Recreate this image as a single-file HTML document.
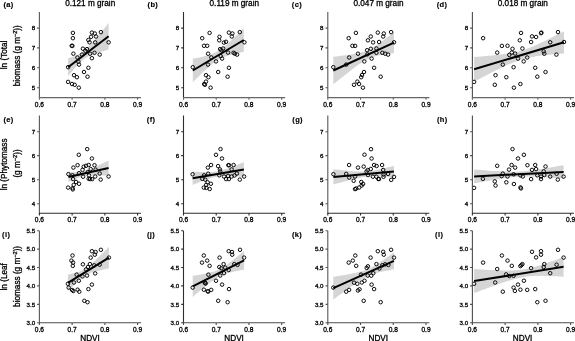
<!DOCTYPE html>
<html lang="en"><head><meta charset="utf-8"><title>NDVI vs biomass</title>
<style>html,body{margin:0;padding:0;background:#fff}body{width:575px;height:341px;overflow:hidden}svg{display:block}</style>
</head><body>
<svg width="575" height="341" viewBox="0 0 575 341" font-family="'Liberation Sans', Arial, Helvetica, sans-serif">
<rect width="575" height="341" fill="#fff"/>
<g>
<polygon points="68.1,58.4 69.79,57.84 71.47,57.26 73.16,56.64 74.85,55.98 76.54,55.26 78.22,54.47 79.91,53.58 81.6,52.55 83.29,51.37 84.97,50.02 86.66,48.52 88.35,46.87 90.04,45.11 91.72,43.26 93.41,41.36 95.1,39.4 96.79,37.41 98.47,35.4 100.16,33.36 101.85,31.31 103.54,29.24 105.22,27.17 106.91,25.09 108.6,23 108.6,49.4 106.91,49.89 105.22,50.4 103.54,50.91 101.85,51.43 100.16,51.96 98.47,52.5 96.79,53.07 95.1,53.67 93.41,54.29 91.72,54.97 90.04,55.71 88.35,56.53 86.66,57.47 84.97,58.54 83.29,59.78 81.6,61.18 79.91,62.74 78.22,64.43 76.54,66.22 74.85,68.09 73.16,70.01 71.47,71.98 69.79,73.98 68.1,76" fill="#d5d5d5"/>
<g fill="none" stroke="#000" stroke-width="0.95">
<circle cx="72.9" cy="32.9" r="1.75"/>
<circle cx="72.9" cy="38.2" r="1.75"/>
<circle cx="71.7" cy="45.8" r="1.75"/>
<circle cx="72.4" cy="45.9" r="1.75"/>
<circle cx="73.4" cy="53.7" r="1.75"/>
<circle cx="91.9" cy="32.6" r="1.75"/>
<circle cx="94.8" cy="33.5" r="1.75"/>
<circle cx="100.9" cy="32.1" r="1.75"/>
<circle cx="96" cy="36.5" r="1.75"/>
<circle cx="91.1" cy="36.8" r="1.75"/>
<circle cx="88.4" cy="40" r="1.75"/>
<circle cx="89.5" cy="42.3" r="1.75"/>
<circle cx="95.2" cy="42.4" r="1.75"/>
<circle cx="108.6" cy="42.3" r="1.75"/>
<circle cx="82.9" cy="48.7" r="1.75"/>
<circle cx="87" cy="49.1" r="1.75"/>
<circle cx="85.4" cy="50.8" r="1.75"/>
<circle cx="90.1" cy="53.7" r="1.75"/>
<circle cx="94.5" cy="52.8" r="1.75"/>
<circle cx="99.7" cy="54.6" r="1.75"/>
<circle cx="82" cy="54.6" r="1.75"/>
<circle cx="77.4" cy="57.5" r="1.75"/>
<circle cx="91.9" cy="58.2" r="1.75"/>
<circle cx="79" cy="64.6" r="1.75"/>
<circle cx="78.4" cy="61.7" r="1.75"/>
<circle cx="68.1" cy="67.2" r="1.75"/>
<circle cx="88.4" cy="67.8" r="1.75"/>
<circle cx="84" cy="72" r="1.75"/>
<circle cx="87.5" cy="76.7" r="1.75"/>
<circle cx="74" cy="75.2" r="1.75"/>
<circle cx="76.9" cy="77.2" r="1.75"/>
<circle cx="68.1" cy="81.9" r="1.75"/>
<circle cx="72" cy="84" r="1.75"/>
<circle cx="74.7" cy="84.8" r="1.75"/>
<circle cx="78.8" cy="87.7" r="1.75"/>
</g>
<line x1="68.1" y1="67.2" x2="108.6" y2="36.2" stroke="#000" stroke-width="2.0"/>
<path d="M39.4 12V98.1M37.1 28.1H39.4M37.1 47.9H39.4M37.1 67.8H39.4M37.1 87.7H39.4" fill="none" stroke="#585858" stroke-width="1.1"/>
<path d="M38.9 97.6H141M39.4 97.6V99.8M72.13 97.6V99.8M104.86 97.6V99.8M137.59 97.6V99.8" fill="none" stroke="#666" stroke-width="1.1"/>
<g font-size="6.6" fill="#000" stroke="#000" stroke-width="0.3">
<text x="35.1" y="30.2" text-anchor="end" font-size="6.2">8</text>
<text x="35.1" y="50" text-anchor="end" font-size="6.2">7</text>
<text x="35.1" y="69.9" text-anchor="end" font-size="6.2">6</text>
<text x="35.1" y="89.8" text-anchor="end" font-size="6.2">5</text>
<text x="39.4" y="106.8" text-anchor="middle">0.6</text>
<text x="72.13" y="106.8" text-anchor="middle">0.7</text>
<text x="104.86" y="106.8" text-anchor="middle">0.8</text>
<text x="137.59" y="106.8" text-anchor="middle">0.9</text>
</g>
<text x="3.5" y="6.7" font-size="7.5" letter-spacing="0.35" font-weight="bold" stroke="#000" stroke-width="0.15">(a)</text>
<text x="90.2" y="6.1" font-size="8.2" text-anchor="middle" stroke="#000" stroke-width="0.3">0.121 m grain</text>
</g>
<g>
<polygon points="192.8,58.8 194.93,58.37 197.05,57.92 199.18,57.46 201.3,56.98 203.43,56.47 205.55,55.92 207.68,55.33 209.8,54.67 211.93,53.93 214.05,53.06 216.18,52.04 218.3,50.85 220.43,49.47 222.55,47.92 224.68,46.22 226.8,44.4 228.93,42.51 231.05,40.55 233.18,38.54 235.3,36.51 237.43,34.44 239.55,32.36 241.68,30.26 243.8,28.15 243.8,51.85 241.68,52.28 239.55,52.72 237.43,53.18 235.3,53.66 233.18,54.16 231.05,54.7 228.93,55.28 226.8,55.93 224.68,56.66 222.55,57.5 220.43,58.49 218.3,59.65 216.18,61 214.05,62.52 211.93,64.2 209.8,65.99 207.68,67.88 205.55,69.83 203.43,71.82 201.3,73.86 199.18,75.91 197.05,78 194.93,80.09 192.8,82.2" fill="#d5d5d5"/>
<g fill="none" stroke="#000" stroke-width="0.95">
<circle cx="209.6" cy="32.9" r="1.75"/>
<circle cx="202.2" cy="38.2" r="1.75"/>
<circle cx="204" cy="45.8" r="1.75"/>
<circle cx="207.2" cy="45.8" r="1.75"/>
<circle cx="208.1" cy="53.7" r="1.75"/>
<circle cx="228.9" cy="32.6" r="1.75"/>
<circle cx="232.4" cy="33.5" r="1.75"/>
<circle cx="239.8" cy="32.1" r="1.75"/>
<circle cx="231.8" cy="36.5" r="1.75"/>
<circle cx="219.5" cy="36.8" r="1.75"/>
<circle cx="219.2" cy="40.3" r="1.75"/>
<circle cx="223.9" cy="42.6" r="1.75"/>
<circle cx="226" cy="41.8" r="1.75"/>
<circle cx="244.4" cy="42.3" r="1.75"/>
<circle cx="220.1" cy="49.1" r="1.75"/>
<circle cx="223.1" cy="48.5" r="1.75"/>
<circle cx="221.3" cy="50.2" r="1.75"/>
<circle cx="228.1" cy="52.6" r="1.75"/>
<circle cx="233.6" cy="52.8" r="1.75"/>
<circle cx="237.1" cy="54.6" r="1.75"/>
<circle cx="234.8" cy="53.7" r="1.75"/>
<circle cx="211.3" cy="57.4" r="1.75"/>
<circle cx="220.7" cy="56.1" r="1.75"/>
<circle cx="222.1" cy="58.6" r="1.75"/>
<circle cx="216" cy="61.4" r="1.75"/>
<circle cx="208" cy="64.6" r="1.75"/>
<circle cx="192.8" cy="67.2" r="1.75"/>
<circle cx="228.9" cy="67.8" r="1.75"/>
<circle cx="218.2" cy="72" r="1.75"/>
<circle cx="227.6" cy="76.7" r="1.75"/>
<circle cx="206" cy="75.2" r="1.75"/>
<circle cx="208.4" cy="77.2" r="1.75"/>
<circle cx="206" cy="81.6" r="1.75"/>
<circle cx="204.2" cy="84" r="1.75"/>
<circle cx="204.9" cy="84.8" r="1.75"/>
<circle cx="210.6" cy="87.7" r="1.75"/>
</g>
<line x1="192.8" y1="70.5" x2="243.8" y2="40" stroke="#000" stroke-width="2.0"/>
<path d="M183.5 12V98.1M181.2 28.1H183.5M181.2 47.9H183.5M181.2 67.8H183.5M181.2 87.7H183.5" fill="none" stroke="#2e2e2e" stroke-width="1.1"/>
<path d="M183 97.6H285.1M183.5 97.6V99.8M216.23 97.6V99.8M248.96 97.6V99.8M281.69 97.6V99.8" fill="none" stroke="#666" stroke-width="1.1"/>
<g font-size="6.6" fill="#000" stroke="#000" stroke-width="0.3">
<text x="179.2" y="30.2" text-anchor="end" font-size="6.2">8</text>
<text x="179.2" y="50" text-anchor="end" font-size="6.2">7</text>
<text x="179.2" y="69.9" text-anchor="end" font-size="6.2">6</text>
<text x="179.2" y="89.8" text-anchor="end" font-size="6.2">5</text>
<text x="183.5" y="106.8" text-anchor="middle">0.6</text>
<text x="216.23" y="106.8" text-anchor="middle">0.7</text>
<text x="248.96" y="106.8" text-anchor="middle">0.8</text>
<text x="281.69" y="106.8" text-anchor="middle">0.9</text>
</g>
<text x="147.6" y="6.7" font-size="7.5" letter-spacing="0.35" font-weight="bold" stroke="#000" stroke-width="0.15">(b)</text>
<text x="234.3" y="6.1" font-size="8.2" text-anchor="middle" stroke="#000" stroke-width="0.3">0.119 m grain</text>
</g>
<g>
<polygon points="333.3,56.7 335.83,56.43 338.36,56.15 340.89,55.86 343.42,55.55 345.95,55.23 348.48,54.89 351,54.53 353.53,54.12 356.06,53.67 358.59,53.15 361.12,52.54 363.65,51.81 366.18,50.91 368.71,49.82 371.24,48.54 373.77,47.07 376.3,45.45 378.82,43.71 381.35,41.88 383.88,40 386.41,38.07 388.94,36.1 391.47,34.11 394,32.1 394,53.1 391.47,53.42 388.94,53.75 386.41,54.11 383.88,54.5 381.35,54.94 378.82,55.44 376.3,56.03 373.77,56.73 371.24,57.59 368.71,58.63 366.18,59.87 363.65,61.29 361.12,62.88 358.59,64.6 356.06,66.4 353.53,68.28 351,70.2 348.48,72.16 345.95,74.14 343.42,76.15 340.89,78.17 338.36,80.2 335.83,82.25 333.3,84.3" fill="#d5d5d5"/>
<g fill="none" stroke="#000" stroke-width="0.95">
<circle cx="355.9" cy="32.9" r="1.75"/>
<circle cx="348.7" cy="38.2" r="1.75"/>
<circle cx="352.4" cy="45.8" r="1.75"/>
<circle cx="355.1" cy="45.9" r="1.75"/>
<circle cx="358" cy="53.7" r="1.75"/>
<circle cx="377.8" cy="32.6" r="1.75"/>
<circle cx="383.8" cy="33.5" r="1.75"/>
<circle cx="391.1" cy="32.1" r="1.75"/>
<circle cx="383.2" cy="36.5" r="1.75"/>
<circle cx="370.8" cy="36.5" r="1.75"/>
<circle cx="367.9" cy="40.3" r="1.75"/>
<circle cx="373.1" cy="42.4" r="1.75"/>
<circle cx="379.1" cy="42" r="1.75"/>
<circle cx="394" cy="42.3" r="1.75"/>
<circle cx="370.8" cy="48.8" r="1.75"/>
<circle cx="376.4" cy="48.5" r="1.75"/>
<circle cx="367.1" cy="50.2" r="1.75"/>
<circle cx="376.4" cy="52.8" r="1.75"/>
<circle cx="382.3" cy="52.8" r="1.75"/>
<circle cx="385.2" cy="53.7" r="1.75"/>
<circle cx="388.1" cy="54.6" r="1.75"/>
<circle cx="349.2" cy="57.5" r="1.75"/>
<circle cx="367.4" cy="54.3" r="1.75"/>
<circle cx="371.6" cy="58.6" r="1.75"/>
<circle cx="364.3" cy="61.4" r="1.75"/>
<circle cx="346.2" cy="64.6" r="1.75"/>
<circle cx="333.3" cy="67.2" r="1.75"/>
<circle cx="374.1" cy="67.8" r="1.75"/>
<circle cx="364" cy="72" r="1.75"/>
<circle cx="380.7" cy="76.7" r="1.75"/>
<circle cx="362" cy="75" r="1.75"/>
<circle cx="361.2" cy="77.2" r="1.75"/>
<circle cx="357.3" cy="81.6" r="1.75"/>
<circle cx="359.1" cy="84" r="1.75"/>
<circle cx="354" cy="84.8" r="1.75"/>
<circle cx="362.9" cy="87.7" r="1.75"/>
</g>
<line x1="333.3" y1="70.5" x2="394" y2="42.6" stroke="#000" stroke-width="2.0"/>
<path d="M327.8 12V98.1M325.5 28.1H327.8M325.5 47.9H327.8M325.5 67.8H327.8M325.5 87.7H327.8" fill="none" stroke="#585858" stroke-width="1.1"/>
<path d="M327.3 97.6H429.4M327.8 97.6V99.8M360.53 97.6V99.8M393.26 97.6V99.8M425.99 97.6V99.8" fill="none" stroke="#666" stroke-width="1.1"/>
<g font-size="6.6" fill="#000" stroke="#000" stroke-width="0.3">
<text x="323.5" y="30.2" text-anchor="end" font-size="6.2">8</text>
<text x="323.5" y="50" text-anchor="end" font-size="6.2">7</text>
<text x="323.5" y="69.9" text-anchor="end" font-size="6.2">6</text>
<text x="323.5" y="89.8" text-anchor="end" font-size="6.2">5</text>
<text x="327.8" y="106.8" text-anchor="middle">0.6</text>
<text x="360.53" y="106.8" text-anchor="middle">0.7</text>
<text x="393.26" y="106.8" text-anchor="middle">0.8</text>
<text x="425.99" y="106.8" text-anchor="middle">0.9</text>
</g>
<text x="291.8" y="6.7" font-size="7.5" letter-spacing="0.35" font-weight="bold" stroke="#000" stroke-width="0.15">(c)</text>
<text x="378.5" y="6.1" font-size="8.2" text-anchor="middle" stroke="#000" stroke-width="0.3">0.047 m grain</text>
</g>
<g>
<polygon points="474.1,57 477.85,56.71 481.59,56.4 485.34,56.09 489.08,55.75 492.83,55.4 496.58,55.01 500.32,54.59 504.07,54.11 507.81,53.57 511.56,52.93 515.3,52.17 519.05,51.25 522.8,50.17 526.54,48.91 530.29,47.48 534.03,45.92 537.78,44.25 541.52,42.51 545.27,40.7 549.02,38.85 552.76,36.97 556.51,35.07 560.25,33.14 564,31.2 564,53.4 560.25,53.71 556.51,54.03 552.76,54.38 549.02,54.75 545.27,55.15 541.52,55.59 537.78,56.1 534.03,56.68 530.29,57.37 526.54,58.19 522.8,59.18 519.05,60.35 515.3,61.68 511.56,63.17 507.81,64.78 504.07,66.49 500.32,68.26 496.58,70.09 492.83,71.95 489.08,73.85 485.34,75.76 481.59,77.7 477.85,79.64 474.1,81.6" fill="#d5d5d5"/>
<g fill="none" stroke="#000" stroke-width="0.95">
<circle cx="483.1" cy="38.2" r="1.75"/>
<circle cx="521" cy="32.9" r="1.75"/>
<circle cx="519.8" cy="40.3" r="1.75"/>
<circle cx="501.9" cy="45.9" r="1.75"/>
<circle cx="507.5" cy="45.8" r="1.75"/>
<circle cx="512.5" cy="48.8" r="1.75"/>
<circle cx="522.4" cy="48.5" r="1.75"/>
<circle cx="497.2" cy="52.6" r="1.75"/>
<circle cx="511.8" cy="52.6" r="1.75"/>
<circle cx="515.1" cy="53.5" r="1.75"/>
<circle cx="509.3" cy="54.9" r="1.75"/>
<circle cx="527.2" cy="57.5" r="1.75"/>
<circle cx="532" cy="36.4" r="1.75"/>
<circle cx="536.1" cy="37" r="1.75"/>
<circle cx="541" cy="33.2" r="1.75"/>
<circle cx="541.4" cy="32.6" r="1.75"/>
<circle cx="531.1" cy="42" r="1.75"/>
<circle cx="558" cy="32.1" r="1.75"/>
<circle cx="550.2" cy="42.3" r="1.75"/>
<circle cx="564" cy="42" r="1.75"/>
<circle cx="544.3" cy="53.7" r="1.75"/>
<circle cx="543.7" cy="51.4" r="1.75"/>
<circle cx="556.4" cy="54.6" r="1.75"/>
<circle cx="518" cy="58.6" r="1.75"/>
<circle cx="523.7" cy="61.4" r="1.75"/>
<circle cx="502.8" cy="64.6" r="1.75"/>
<circle cx="513.6" cy="67.2" r="1.75"/>
<circle cx="495.5" cy="75.2" r="1.75"/>
<circle cx="506.3" cy="77.2" r="1.75"/>
<circle cx="474.1" cy="81.9" r="1.75"/>
<circle cx="494.8" cy="84.8" r="1.75"/>
<circle cx="520.4" cy="84" r="1.75"/>
<circle cx="513.9" cy="87.7" r="1.75"/>
<circle cx="535.2" cy="67.8" r="1.75"/>
<circle cx="545.5" cy="72" r="1.75"/>
<circle cx="537.3" cy="76.7" r="1.75"/>
</g>
<line x1="474.1" y1="69.3" x2="564" y2="42.3" stroke="#000" stroke-width="2.0"/>
<path d="M472.4 12V98.1M470.1 28.1H472.4M470.1 47.9H472.4M470.1 67.8H472.4M470.1 87.7H472.4" fill="none" stroke="#4d4d4d" stroke-width="1.1"/>
<path d="M471.9 97.6H574M472.4 97.6V99.8M505.13 97.6V99.8M537.86 97.6V99.8M570.59 97.6V99.8" fill="none" stroke="#666" stroke-width="1.1"/>
<g font-size="6.6" fill="#000" stroke="#000" stroke-width="0.3">
<text x="468.1" y="30.2" text-anchor="end" font-size="6.2">8</text>
<text x="468.1" y="50" text-anchor="end" font-size="6.2">7</text>
<text x="468.1" y="69.9" text-anchor="end" font-size="6.2">6</text>
<text x="468.1" y="89.8" text-anchor="end" font-size="6.2">5</text>
<text x="472.4" y="106.8" text-anchor="middle">0.6</text>
<text x="505.13" y="106.8" text-anchor="middle">0.7</text>
<text x="537.86" y="106.8" text-anchor="middle">0.8</text>
<text x="570.59" y="106.8" text-anchor="middle">0.9</text>
</g>
<text x="436.7" y="6.7" font-size="7.5" letter-spacing="0.35" font-weight="bold" stroke="#000" stroke-width="0.15">(d)</text>
<text x="522.8" y="6.1" font-size="8.2" text-anchor="middle" stroke="#000" stroke-width="0.3">0.018 m grain</text>
</g>
<g>
<polygon points="68.4,172.1 70.08,172.14 71.75,172.16 73.43,172.17 75.1,172.15 76.78,172.1 78.45,172 80.12,171.84 81.8,171.61 83.47,171.29 85.15,170.87 86.83,170.36 88.5,169.77 90.17,169.11 91.85,168.41 93.52,167.68 95.2,166.92 96.88,166.14 98.55,165.34 100.22,164.53 101.9,163.72 103.57,162.9 105.25,162.07 106.92,161.24 108.6,160.4 108.6,175.6 106.92,175.52 105.25,175.45 103.57,175.38 101.9,175.31 100.22,175.26 98.55,175.21 96.88,175.17 95.2,175.15 93.52,175.15 91.85,175.17 90.17,175.23 88.5,175.33 86.83,175.5 85.15,175.75 83.47,176.09 81.8,176.52 80.12,177.05 78.45,177.65 76.78,178.31 75.1,179.02 73.43,179.76 71.75,180.52 70.08,181.3 68.4,182.1" fill="#d5d5d5"/>
<g fill="none" stroke="#000" stroke-width="0.95">
<circle cx="87.2" cy="149.1" r="1.75"/>
<circle cx="78.8" cy="154.8" r="1.75"/>
<circle cx="91.9" cy="158.5" r="1.75"/>
<circle cx="77.6" cy="165.2" r="1.75"/>
<circle cx="73.4" cy="167.6" r="1.75"/>
<circle cx="88.7" cy="165" r="1.75"/>
<circle cx="86" cy="165.8" r="1.75"/>
<circle cx="83.7" cy="166.7" r="1.75"/>
<circle cx="94.5" cy="165.2" r="1.75"/>
<circle cx="82.5" cy="169.9" r="1.75"/>
<circle cx="90.7" cy="169.1" r="1.75"/>
<circle cx="95.6" cy="169.6" r="1.75"/>
<circle cx="87.8" cy="172" r="1.75"/>
<circle cx="79" cy="173.2" r="1.75"/>
<circle cx="99.7" cy="173.5" r="1.75"/>
<circle cx="68.4" cy="174.1" r="1.75"/>
<circle cx="72.5" cy="175.3" r="1.75"/>
<circle cx="89" cy="175.4" r="1.75"/>
<circle cx="95.2" cy="176.5" r="1.75"/>
<circle cx="108.6" cy="176.5" r="1.75"/>
<circle cx="83.1" cy="176.7" r="1.75"/>
<circle cx="90.1" cy="179.1" r="1.75"/>
<circle cx="92.2" cy="179.1" r="1.75"/>
<circle cx="88.7" cy="178.8" r="1.75"/>
<circle cx="100.7" cy="179.6" r="1.75"/>
<circle cx="73.1" cy="179.1" r="1.75"/>
<circle cx="76.1" cy="182" r="1.75"/>
<circle cx="79" cy="183.75" r="1.75"/>
<circle cx="73.7" cy="184.9" r="1.75"/>
<circle cx="68.1" cy="187.6" r="1.75"/>
<circle cx="72.5" cy="188.2" r="1.75"/>
<circle cx="72.8" cy="189.4" r="1.75"/>
</g>
<line x1="68.4" y1="177.1" x2="108.6" y2="168" stroke="#000" stroke-width="2.0"/>
<path d="M39.4 115.4V213.8M37.1 131.7H39.4M37.1 155.6H39.4M37.1 179.7H39.4M37.1 203.7H39.4" fill="none" stroke="#585858" stroke-width="1.1"/>
<path d="M38.9 213.3H141M39.4 213.3V215.5M72.13 213.3V215.5M104.86 213.3V215.5M137.59 213.3V215.5" fill="none" stroke="#2e2e2e" stroke-width="1.1"/>
<g font-size="6.6" fill="#000" stroke="#000" stroke-width="0.3">
<text x="35.1" y="133.8" text-anchor="end" font-size="6.2">7</text>
<text x="35.1" y="157.7" text-anchor="end" font-size="6.2">6</text>
<text x="35.1" y="181.8" text-anchor="end" font-size="6.2">5</text>
<text x="35.1" y="205.8" text-anchor="end" font-size="6.2">4</text>
<text x="39.4" y="221.7" text-anchor="middle">0.6</text>
<text x="72.13" y="221.7" text-anchor="middle">0.7</text>
<text x="104.86" y="221.7" text-anchor="middle">0.8</text>
<text x="137.59" y="221.7" text-anchor="middle">0.9</text>
</g>
<text x="3.5" y="121.8" font-size="7.5" letter-spacing="0.35" font-weight="bold" stroke="#000" stroke-width="0.15">(e)</text>
</g>
<g>
<polygon points="192.6,171.5 194.74,171.64 196.88,171.77 199.01,171.88 201.15,171.99 203.29,172.07 205.43,172.13 207.56,172.16 209.7,172.13 211.84,172.05 213.97,171.88 216.11,171.61 218.25,171.22 220.39,170.73 222.53,170.14 224.66,169.47 226.8,168.75 228.94,167.99 231.07,167.19 233.21,166.37 235.35,165.54 237.49,164.69 239.62,163.84 241.76,162.97 243.9,162.1 243.9,176.9 241.76,176.75 239.62,176.61 237.49,176.48 235.35,176.36 233.21,176.25 231.07,176.16 228.94,176.09 226.8,176.05 224.66,176.05 222.53,176.11 220.39,176.25 218.25,176.48 216.11,176.82 213.97,177.27 211.84,177.83 209.7,178.47 207.56,179.17 205.43,179.92 203.29,180.7 201.15,181.51 199.01,182.34 196.88,183.18 194.74,184.04 192.6,184.9" fill="#d5d5d5"/>
<g fill="none" stroke="#000" stroke-width="0.95">
<circle cx="220.5" cy="149.1" r="1.75"/>
<circle cx="216" cy="154.8" r="1.75"/>
<circle cx="222" cy="158.5" r="1.75"/>
<circle cx="211.1" cy="165" r="1.75"/>
<circle cx="207.9" cy="167.6" r="1.75"/>
<circle cx="218.1" cy="166.1" r="1.75"/>
<circle cx="228.3" cy="165.2" r="1.75"/>
<circle cx="229.1" cy="165.2" r="1.75"/>
<circle cx="233.6" cy="165" r="1.75"/>
<circle cx="219.9" cy="169.4" r="1.75"/>
<circle cx="231.6" cy="169.4" r="1.75"/>
<circle cx="220.2" cy="171.4" r="1.75"/>
<circle cx="208.2" cy="173.7" r="1.75"/>
<circle cx="192.6" cy="174.3" r="1.75"/>
<circle cx="204.1" cy="175.3" r="1.75"/>
<circle cx="219.3" cy="175.3" r="1.75"/>
<circle cx="236.9" cy="173.5" r="1.75"/>
<circle cx="234.5" cy="175.5" r="1.75"/>
<circle cx="224" cy="176.5" r="1.75"/>
<circle cx="228.1" cy="175.9" r="1.75"/>
<circle cx="231.6" cy="176.5" r="1.75"/>
<circle cx="244.1" cy="176.5" r="1.75"/>
<circle cx="239.8" cy="179.6" r="1.75"/>
<circle cx="226.1" cy="179.1" r="1.75"/>
<circle cx="228.9" cy="179.1" r="1.75"/>
<circle cx="202.3" cy="178.8" r="1.75"/>
<circle cx="205.2" cy="179.6" r="1.75"/>
<circle cx="207.6" cy="182.3" r="1.75"/>
<circle cx="210.9" cy="183.75" r="1.75"/>
<circle cx="206.2" cy="184.9" r="1.75"/>
<circle cx="203.8" cy="187.6" r="1.75"/>
<circle cx="206.4" cy="187.9" r="1.75"/>
<circle cx="209.7" cy="189" r="1.75"/>
</g>
<line x1="192.6" y1="178.2" x2="243.9" y2="169.5" stroke="#000" stroke-width="2.0"/>
<path d="M183.5 115.4V213.8M181.2 131.7H183.5M181.2 155.6H183.5M181.2 179.7H183.5M181.2 203.7H183.5" fill="none" stroke="#2e2e2e" stroke-width="1.1"/>
<path d="M183 213.3H285.1M183.5 213.3V215.5M216.23 213.3V215.5M248.96 213.3V215.5M281.69 213.3V215.5" fill="none" stroke="#2e2e2e" stroke-width="1.1"/>
<g font-size="6.6" fill="#000" stroke="#000" stroke-width="0.3">
<text x="179.2" y="133.8" text-anchor="end" font-size="6.2">7</text>
<text x="179.2" y="157.7" text-anchor="end" font-size="6.2">6</text>
<text x="179.2" y="181.8" text-anchor="end" font-size="6.2">5</text>
<text x="179.2" y="205.8" text-anchor="end" font-size="6.2">4</text>
<text x="183.5" y="221.7" text-anchor="middle">0.6</text>
<text x="216.23" y="221.7" text-anchor="middle">0.7</text>
<text x="248.96" y="221.7" text-anchor="middle">0.8</text>
<text x="281.69" y="221.7" text-anchor="middle">0.9</text>
</g>
<text x="146.8" y="121.8" font-size="7.5" letter-spacing="0.35" font-weight="bold" stroke="#000" stroke-width="0.15">(f)</text>
</g>
<g>
<polygon points="333.4,169.3 335.92,169.56 338.44,169.82 340.96,170.08 343.48,170.32 346,170.56 348.52,170.78 351.05,170.98 353.57,171.17 356.09,171.32 358.61,171.44 361.13,171.5 363.65,171.49 366.17,171.4 368.69,171.21 371.21,170.91 373.73,170.52 376.25,170.06 378.77,169.53 381.3,168.95 383.82,168.34 386.34,167.71 388.86,167.05 391.38,166.38 393.9,165.7 393.9,177.5 391.38,177.26 388.86,177.03 386.34,176.82 383.82,176.62 381.3,176.46 378.77,176.32 376.25,176.24 373.73,176.21 371.21,176.26 368.69,176.41 366.17,176.66 363.65,177.01 361.13,177.44 358.61,177.95 356.09,178.5 353.57,179.1 351.05,179.73 348.52,180.37 346,181.04 343.48,181.71 340.96,182.4 338.44,183.09 335.92,183.79 333.4,184.5" fill="#d5d5d5"/>
<g fill="none" stroke="#000" stroke-width="0.95">
<circle cx="371" cy="149.2" r="1.75"/>
<circle cx="364.5" cy="154.7" r="1.75"/>
<circle cx="371.6" cy="158.5" r="1.75"/>
<circle cx="349.1" cy="165" r="1.75"/>
<circle cx="358" cy="167.6" r="1.75"/>
<circle cx="363.7" cy="166.6" r="1.75"/>
<circle cx="374.1" cy="165" r="1.75"/>
<circle cx="376.6" cy="166" r="1.75"/>
<circle cx="382.1" cy="165" r="1.75"/>
<circle cx="370.8" cy="169" r="1.75"/>
<circle cx="367.7" cy="170" r="1.75"/>
<circle cx="383.2" cy="170" r="1.75"/>
<circle cx="366.5" cy="171.5" r="1.75"/>
<circle cx="333.4" cy="174.2" r="1.75"/>
<circle cx="346.2" cy="173.9" r="1.75"/>
<circle cx="388.1" cy="173.9" r="1.75"/>
<circle cx="368" cy="175.1" r="1.75"/>
<circle cx="383.6" cy="174.5" r="1.75"/>
<circle cx="372.9" cy="176.7" r="1.75"/>
<circle cx="376.3" cy="176.7" r="1.75"/>
<circle cx="383.5" cy="176.8" r="1.75"/>
<circle cx="394" cy="176.9" r="1.75"/>
<circle cx="355" cy="176.5" r="1.75"/>
<circle cx="349.2" cy="177.6" r="1.75"/>
<circle cx="378.4" cy="179" r="1.75"/>
<circle cx="379" cy="179" r="1.75"/>
<circle cx="391.2" cy="179.9" r="1.75"/>
<circle cx="353.7" cy="180.8" r="1.75"/>
<circle cx="361.3" cy="182" r="1.75"/>
<circle cx="363.1" cy="183.9" r="1.75"/>
<circle cx="361.7" cy="185.5" r="1.75"/>
<circle cx="359.2" cy="187.5" r="1.75"/>
<circle cx="356.2" cy="188.5" r="1.75"/>
<circle cx="355" cy="189.1" r="1.75"/>
</g>
<line x1="333.4" y1="176.9" x2="393.9" y2="171.6" stroke="#000" stroke-width="2.0"/>
<path d="M327.8 115.4V213.8M325.5 131.7H327.8M325.5 155.6H327.8M325.5 179.7H327.8M325.5 203.7H327.8" fill="none" stroke="#585858" stroke-width="1.1"/>
<path d="M327.3 213.3H429.4M327.8 213.3V215.5M360.53 213.3V215.5M393.26 213.3V215.5M425.99 213.3V215.5" fill="none" stroke="#2e2e2e" stroke-width="1.1"/>
<g font-size="6.6" fill="#000" stroke="#000" stroke-width="0.3">
<text x="323.5" y="133.8" text-anchor="end" font-size="6.2">7</text>
<text x="323.5" y="157.7" text-anchor="end" font-size="6.2">6</text>
<text x="323.5" y="181.8" text-anchor="end" font-size="6.2">5</text>
<text x="323.5" y="205.8" text-anchor="end" font-size="6.2">4</text>
<text x="327.8" y="221.7" text-anchor="middle">0.6</text>
<text x="360.53" y="221.7" text-anchor="middle">0.7</text>
<text x="393.26" y="221.7" text-anchor="middle">0.8</text>
<text x="425.99" y="221.7" text-anchor="middle">0.9</text>
</g>
<text x="292.3" y="121.8" font-size="7.5" letter-spacing="0.35" font-weight="bold" stroke="#000" stroke-width="0.15">(g)</text>
</g>
<g>
<polygon points="474.1,169.5 477.83,169.79 481.56,170.08 485.29,170.36 489.02,170.63 492.75,170.88 496.48,171.11 500.2,171.32 503.93,171.49 507.66,171.62 511.39,171.68 515.12,171.66 518.85,171.55 522.58,171.33 526.31,171.01 530.04,170.6 533.77,170.13 537.5,169.6 541.23,169.03 544.95,168.43 548.68,167.81 552.41,167.17 556.14,166.53 559.87,165.87 563.6,165.2 563.6,178.6 559.87,178.31 556.14,178.02 552.41,177.75 548.68,177.49 544.95,177.24 541.23,177.02 537.5,176.83 533.77,176.67 530.04,176.57 526.31,176.54 522.58,176.6 518.85,176.75 515.12,177.01 511.39,177.37 507.66,177.81 503.93,178.31 500.2,178.85 496.48,179.44 492.75,180.04 489.02,180.67 485.29,181.31 481.56,181.97 477.83,182.63 474.1,183.3" fill="#d5d5d5"/>
<g fill="none" stroke="#000" stroke-width="0.95">
<circle cx="512.5" cy="149.1" r="1.75"/>
<circle cx="523.9" cy="154.8" r="1.75"/>
<circle cx="518" cy="158.5" r="1.75"/>
<circle cx="497.2" cy="165.8" r="1.75"/>
<circle cx="511.6" cy="165" r="1.75"/>
<circle cx="515.1" cy="167.6" r="1.75"/>
<circle cx="527.4" cy="165.2" r="1.75"/>
<circle cx="509" cy="169.6" r="1.75"/>
<circle cx="502.8" cy="173.6" r="1.75"/>
<circle cx="513.6" cy="174.3" r="1.75"/>
<circle cx="520.4" cy="175.4" r="1.75"/>
<circle cx="501.6" cy="176.1" r="1.75"/>
<circle cx="507.5" cy="176.5" r="1.75"/>
<circle cx="522.8" cy="176.5" r="1.75"/>
<circle cx="535.2" cy="165" r="1.75"/>
<circle cx="545.5" cy="166.5" r="1.75"/>
<circle cx="536.1" cy="169.1" r="1.75"/>
<circle cx="532" cy="169.9" r="1.75"/>
<circle cx="543.7" cy="171.4" r="1.75"/>
<circle cx="556.6" cy="173.75" r="1.75"/>
<circle cx="537.3" cy="175.3" r="1.75"/>
<circle cx="544.3" cy="175" r="1.75"/>
<circle cx="541" cy="176.6" r="1.75"/>
<circle cx="550.2" cy="176.6" r="1.75"/>
<circle cx="563.6" cy="176.6" r="1.75"/>
<circle cx="482.9" cy="178.8" r="1.75"/>
<circle cx="494.8" cy="181.4" r="1.75"/>
<circle cx="506.3" cy="182.3" r="1.75"/>
<circle cx="495.5" cy="185.5" r="1.75"/>
<circle cx="513.9" cy="184" r="1.75"/>
<circle cx="474.1" cy="187.9" r="1.75"/>
<circle cx="520.5" cy="187.4" r="1.75"/>
<circle cx="521" cy="188.4" r="1.75"/>
<circle cx="531.1" cy="179.1" r="1.75"/>
<circle cx="541" cy="179.1" r="1.75"/>
<circle cx="557.8" cy="179.6" r="1.75"/>
</g>
<line x1="474.1" y1="176.4" x2="563.6" y2="171.9" stroke="#000" stroke-width="2.0"/>
<path d="M472.4 115.4V213.8M470.1 131.7H472.4M470.1 155.6H472.4M470.1 179.7H472.4M470.1 203.7H472.4" fill="none" stroke="#4d4d4d" stroke-width="1.1"/>
<path d="M471.9 213.3H574M472.4 213.3V215.5M505.13 213.3V215.5M537.86 213.3V215.5M570.59 213.3V215.5" fill="none" stroke="#2e2e2e" stroke-width="1.1"/>
<g font-size="6.6" fill="#000" stroke="#000" stroke-width="0.3">
<text x="468.1" y="133.8" text-anchor="end" font-size="6.2">7</text>
<text x="468.1" y="157.7" text-anchor="end" font-size="6.2">6</text>
<text x="468.1" y="181.8" text-anchor="end" font-size="6.2">5</text>
<text x="468.1" y="205.8" text-anchor="end" font-size="6.2">4</text>
<text x="472.4" y="221.7" text-anchor="middle">0.6</text>
<text x="505.13" y="221.7" text-anchor="middle">0.7</text>
<text x="537.86" y="221.7" text-anchor="middle">0.8</text>
<text x="570.59" y="221.7" text-anchor="middle">0.9</text>
</g>
<text x="436.9" y="121.8" font-size="7.5" letter-spacing="0.35" font-weight="bold" stroke="#000" stroke-width="0.15">(h)</text>
</g>
<g>
<polygon points="67.9,274.7 69.61,274.31 71.32,273.91 73.03,273.49 74.73,273.04 76.44,272.56 78.15,272.03 79.86,271.43 81.57,270.73 83.28,269.92 84.98,268.96 86.69,267.84 88.4,266.57 90.11,265.17 91.82,263.67 93.53,262.11 95.23,260.49 96.94,258.83 98.65,257.15 100.36,255.44 102.07,253.73 103.78,251.99 105.48,250.25 107.19,248.5 108.9,246.75 108.9,268.45 107.19,268.8 105.48,269.16 103.78,269.53 102.07,269.91 100.36,270.3 98.65,270.7 96.94,271.13 95.23,271.58 93.53,272.07 91.82,272.61 90.11,273.22 88.4,273.93 86.69,274.77 84.98,275.76 83.28,276.91 81.57,278.2 79.86,279.61 78.15,281.12 76.44,282.7 74.73,284.32 73.03,285.98 71.32,287.67 69.61,289.38 67.9,291.1" fill="#d5d5d5"/>
<g fill="none" stroke="#000" stroke-width="0.95">
<circle cx="100.9" cy="249.8" r="1.75"/>
<circle cx="91.9" cy="251.2" r="1.75"/>
<circle cx="95.6" cy="252" r="1.75"/>
<circle cx="94.8" cy="254.7" r="1.75"/>
<circle cx="90.7" cy="257.6" r="1.75"/>
<circle cx="72.5" cy="255.5" r="1.75"/>
<circle cx="71.4" cy="260.6" r="1.75"/>
<circle cx="73.1" cy="262.6" r="1.75"/>
<circle cx="72.8" cy="265.85" r="1.75"/>
<circle cx="82.9" cy="264.3" r="1.75"/>
<circle cx="89.9" cy="264.1" r="1.75"/>
<circle cx="108.9" cy="257.6" r="1.75"/>
<circle cx="99.7" cy="264.7" r="1.75"/>
<circle cx="94.2" cy="265.3" r="1.75"/>
<circle cx="88" cy="267" r="1.75"/>
<circle cx="86" cy="269.4" r="1.75"/>
<circle cx="95.2" cy="273.4" r="1.75"/>
<circle cx="76.6" cy="274.65" r="1.75"/>
<circle cx="87" cy="275.55" r="1.75"/>
<circle cx="82.5" cy="276.4" r="1.75"/>
<circle cx="78.8" cy="280.75" r="1.75"/>
<circle cx="73.9" cy="282.5" r="1.75"/>
<circle cx="67.9" cy="283.8" r="1.75"/>
<circle cx="68.7" cy="287.6" r="1.75"/>
<circle cx="91.9" cy="284.6" r="1.75"/>
<circle cx="88.4" cy="289.1" r="1.75"/>
<circle cx="77.6" cy="289.7" r="1.75"/>
<circle cx="79.3" cy="291.7" r="1.75"/>
<circle cx="72.1" cy="290" r="1.75"/>
<circle cx="73.3" cy="291" r="1.75"/>
<circle cx="84.3" cy="300.8" r="1.75"/>
<circle cx="87.5" cy="302.2" r="1.75"/>
</g>
<line x1="67.9" y1="282.9" x2="108.9" y2="257.6" stroke="#000" stroke-width="2.0"/>
<path d="M39.4 230.7V323.3M37.1 230.7H39.4M37.1 249.1H39.4M37.1 267.5H39.4M37.1 285.9H39.4M37.1 304.4H39.4M37.1 322.8H39.4" fill="none" stroke="#585858" stroke-width="1.1"/>
<path d="M38.9 322.8H141M39.4 322.8V325M72.13 322.8V325M104.86 322.8V325M137.59 322.8V325" fill="none" stroke="#4d4d4d" stroke-width="1.1"/>
<g font-size="6.6" fill="#000" stroke="#000" stroke-width="0.3">
<text x="35.1" y="232.8" text-anchor="end" font-size="6.2">5.5</text>
<text x="35.1" y="251.2" text-anchor="end" font-size="6.2">5.0</text>
<text x="35.1" y="269.6" text-anchor="end" font-size="6.2">4.5</text>
<text x="35.1" y="288" text-anchor="end" font-size="6.2">4.0</text>
<text x="35.1" y="306.5" text-anchor="end" font-size="6.2">3.5</text>
<text x="35.1" y="324.9" text-anchor="end" font-size="6.2">3.0</text>
<text x="39.4" y="331.5" text-anchor="middle">0.6</text>
<text x="72.13" y="331.5" text-anchor="middle">0.7</text>
<text x="104.86" y="331.5" text-anchor="middle">0.8</text>
<text x="137.59" y="331.5" text-anchor="middle">0.9</text>
</g>
<text x="2.1" y="236.9" font-size="7.5" letter-spacing="0.35" font-weight="bold" stroke="#000" stroke-width="0.15">(i)</text>
<text x="90" y="341.4" font-size="8.2" text-anchor="middle" stroke="#000" stroke-width="0.3">NDVI</text>
</g>
<g>
<polygon points="192.7,275.9 194.84,275.54 196.98,275.17 199.12,274.8 201.27,274.41 203.41,274 205.55,273.57 207.69,273.11 209.83,272.61 211.97,272.06 214.12,271.42 216.26,270.68 218.4,269.8 220.54,268.76 222.68,267.54 224.82,266.18 226.97,264.69 229.11,263.11 231.25,261.46 233.39,259.76 235.53,258.03 237.67,256.27 239.82,254.49 241.96,252.7 244.1,250.9 244.1,269.7 241.96,270.07 239.82,270.46 237.67,270.85 235.53,271.27 233.39,271.71 231.25,272.19 229.11,272.72 226.97,273.31 224.82,274 222.68,274.81 220.54,275.77 218.4,276.9 216.26,278.19 214.12,279.63 211.97,281.17 209.83,282.79 207.69,284.46 205.55,286.18 203.41,287.93 201.27,289.69 199.12,291.48 196.98,293.28 194.84,295.08 192.7,296.9" fill="#d5d5d5"/>
<g fill="none" stroke="#000" stroke-width="0.95">
<circle cx="240" cy="249.8" r="1.75"/>
<circle cx="228.7" cy="251.2" r="1.75"/>
<circle cx="232" cy="252" r="1.75"/>
<circle cx="232.2" cy="254.7" r="1.75"/>
<circle cx="219.6" cy="257.6" r="1.75"/>
<circle cx="203.8" cy="255.5" r="1.75"/>
<circle cx="207.2" cy="260.6" r="1.75"/>
<circle cx="202" cy="262.6" r="1.75"/>
<circle cx="209.6" cy="265.85" r="1.75"/>
<circle cx="223.6" cy="264.1" r="1.75"/>
<circle cx="244.1" cy="257.6" r="1.75"/>
<circle cx="219.3" cy="267" r="1.75"/>
<circle cx="221.4" cy="268.2" r="1.75"/>
<circle cx="225.2" cy="267.6" r="1.75"/>
<circle cx="234.3" cy="264.1" r="1.75"/>
<circle cx="237.5" cy="264.9" r="1.75"/>
<circle cx="228.7" cy="270" r="1.75"/>
<circle cx="224" cy="273.2" r="1.75"/>
<circle cx="208.4" cy="274.65" r="1.75"/>
<circle cx="220.2" cy="275.55" r="1.75"/>
<circle cx="216" cy="280.75" r="1.75"/>
<circle cx="204.6" cy="282.5" r="1.75"/>
<circle cx="205.3" cy="283.1" r="1.75"/>
<circle cx="205.6" cy="283.5" r="1.75"/>
<circle cx="192.7" cy="287.6" r="1.75"/>
<circle cx="222.1" cy="284.6" r="1.75"/>
<circle cx="229" cy="289.1" r="1.75"/>
<circle cx="203.9" cy="289.7" r="1.75"/>
<circle cx="211.2" cy="289.9" r="1.75"/>
<circle cx="207.6" cy="291.2" r="1.75"/>
<circle cx="208.2" cy="291.6" r="1.75"/>
<circle cx="218.2" cy="300.8" r="1.75"/>
<circle cx="227.6" cy="302.2" r="1.75"/>
</g>
<line x1="192.7" y1="286.4" x2="244.1" y2="260.3" stroke="#000" stroke-width="2.0"/>
<path d="M183.5 230.7V323.3M181.2 230.7H183.5M181.2 249.1H183.5M181.2 267.5H183.5M181.2 285.9H183.5M181.2 304.4H183.5M181.2 322.8H183.5" fill="none" stroke="#2e2e2e" stroke-width="1.1"/>
<path d="M183 322.8H285.1M183.5 322.8V325M216.23 322.8V325M248.96 322.8V325M281.69 322.8V325" fill="none" stroke="#4d4d4d" stroke-width="1.1"/>
<g font-size="6.6" fill="#000" stroke="#000" stroke-width="0.3">
<text x="179.2" y="232.8" text-anchor="end" font-size="6.2">5.5</text>
<text x="179.2" y="251.2" text-anchor="end" font-size="6.2">5.0</text>
<text x="179.2" y="269.6" text-anchor="end" font-size="6.2">4.5</text>
<text x="179.2" y="288" text-anchor="end" font-size="6.2">4.0</text>
<text x="179.2" y="306.5" text-anchor="end" font-size="6.2">3.5</text>
<text x="179.2" y="324.9" text-anchor="end" font-size="6.2">3.0</text>
<text x="183.5" y="331.5" text-anchor="middle">0.6</text>
<text x="216.23" y="331.5" text-anchor="middle">0.7</text>
<text x="248.96" y="331.5" text-anchor="middle">0.8</text>
<text x="281.69" y="331.5" text-anchor="middle">0.9</text>
</g>
<text x="146.9" y="236.9" font-size="7.5" letter-spacing="0.35" font-weight="bold" stroke="#000" stroke-width="0.15">(j)</text>
<text x="234.1" y="341.4" font-size="8.2" text-anchor="middle" stroke="#000" stroke-width="0.3">NDVI</text>
</g>
<g>
<polygon points="333.3,276.8 335.83,276.39 338.36,275.98 340.89,275.56 343.42,275.13 345.95,274.69 348.48,274.23 351,273.75 353.53,273.25 356.06,272.7 358.59,272.11 361.12,271.44 363.65,270.67 366.18,269.77 368.71,268.72 371.24,267.49 373.77,266.11 376.3,264.59 378.82,262.98 381.35,261.29 383.88,259.55 386.41,257.77 388.94,255.97 391.47,254.14 394,252.3 394,269.3 391.47,269.74 388.94,270.2 386.41,270.68 383.88,271.18 381.35,271.73 378.82,272.32 376.3,272.99 373.77,273.76 371.24,274.66 368.71,275.72 366.18,276.94 363.65,278.33 361.12,279.84 358.59,281.46 356.06,283.15 353.53,284.89 351,286.67 348.48,288.47 345.95,290.3 343.42,292.14 340.89,293.99 338.36,295.85 335.83,297.72 333.3,299.6" fill="#d5d5d5"/>
<g fill="none" stroke="#000" stroke-width="0.95">
<circle cx="391.1" cy="249.8" r="1.75"/>
<circle cx="377.8" cy="251.2" r="1.75"/>
<circle cx="383.2" cy="251.8" r="1.75"/>
<circle cx="383.8" cy="254.7" r="1.75"/>
<circle cx="370.6" cy="257.6" r="1.75"/>
<circle cx="355.3" cy="255.5" r="1.75"/>
<circle cx="352.8" cy="260.6" r="1.75"/>
<circle cx="348.7" cy="262.6" r="1.75"/>
<circle cx="356.2" cy="265.85" r="1.75"/>
<circle cx="366.7" cy="267.9" r="1.75"/>
<circle cx="367.9" cy="266.3" r="1.75"/>
<circle cx="376.4" cy="264.1" r="1.75"/>
<circle cx="394" cy="257.6" r="1.75"/>
<circle cx="382.3" cy="265.3" r="1.75"/>
<circle cx="385.2" cy="264.3" r="1.75"/>
<circle cx="388.4" cy="265" r="1.75"/>
<circle cx="379.4" cy="268.5" r="1.75"/>
<circle cx="373.3" cy="273.2" r="1.75"/>
<circle cx="361" cy="274.65" r="1.75"/>
<circle cx="367.7" cy="275.55" r="1.75"/>
<circle cx="371.2" cy="275.7" r="1.75"/>
<circle cx="364.5" cy="280.75" r="1.75"/>
<circle cx="361.8" cy="282.5" r="1.75"/>
<circle cx="354" cy="282.7" r="1.75"/>
<circle cx="357.3" cy="283.8" r="1.75"/>
<circle cx="333.3" cy="287.6" r="1.75"/>
<circle cx="371.6" cy="284.6" r="1.75"/>
<circle cx="374.1" cy="289.1" r="1.75"/>
<circle cx="349.1" cy="289.9" r="1.75"/>
<circle cx="346.2" cy="291.7" r="1.75"/>
<circle cx="357.9" cy="290.5" r="1.75"/>
<circle cx="359.5" cy="289.3" r="1.75"/>
<circle cx="363.7" cy="300.8" r="1.75"/>
<circle cx="380.7" cy="302.2" r="1.75"/>
</g>
<line x1="333.3" y1="288.2" x2="394" y2="260.8" stroke="#000" stroke-width="2.0"/>
<path d="M327.8 230.7V323.3M325.5 230.7H327.8M325.5 249.1H327.8M325.5 267.5H327.8M325.5 285.9H327.8M325.5 304.4H327.8M325.5 322.8H327.8" fill="none" stroke="#585858" stroke-width="1.1"/>
<path d="M327.3 322.8H429.4M327.8 322.8V325M360.53 322.8V325M393.26 322.8V325M425.99 322.8V325" fill="none" stroke="#4d4d4d" stroke-width="1.1"/>
<g font-size="6.6" fill="#000" stroke="#000" stroke-width="0.3">
<text x="323.5" y="232.8" text-anchor="end" font-size="6.2">5.5</text>
<text x="323.5" y="251.2" text-anchor="end" font-size="6.2">5.0</text>
<text x="323.5" y="269.6" text-anchor="end" font-size="6.2">4.5</text>
<text x="323.5" y="288" text-anchor="end" font-size="6.2">4.0</text>
<text x="323.5" y="306.5" text-anchor="end" font-size="6.2">3.5</text>
<text x="323.5" y="324.9" text-anchor="end" font-size="6.2">3.0</text>
<text x="327.8" y="331.5" text-anchor="middle">0.6</text>
<text x="360.53" y="331.5" text-anchor="middle">0.7</text>
<text x="393.26" y="331.5" text-anchor="middle">0.8</text>
<text x="425.99" y="331.5" text-anchor="middle">0.9</text>
</g>
<text x="291.9" y="236.9" font-size="7.5" letter-spacing="0.35" font-weight="bold" stroke="#000" stroke-width="0.15">(k)</text>
<text x="378.3" y="341.4" font-size="8.2" text-anchor="middle" stroke="#000" stroke-width="0.3">NDVI</text>
</g>
<g>
<polygon points="474.1,269.1 477.83,269.31 481.56,269.51 485.29,269.71 489.02,269.89 492.75,270.05 496.48,270.2 500.2,270.32 503.93,270.4 507.66,270.43 511.39,270.39 515.12,270.25 518.85,269.98 522.58,269.54 526.31,268.92 530.04,268.11 533.77,267.14 537.5,266.06 541.23,264.88 544.95,263.64 548.68,262.35 552.41,261.03 556.14,259.69 559.87,258.33 563.6,256.95 563.6,276.65 559.87,276.46 556.14,276.29 552.41,276.14 548.68,276.01 544.95,275.92 541.23,275.87 537.5,275.89 533.77,275.99 530.04,276.22 526.31,276.6 522.58,277.17 518.85,277.92 515.12,278.84 511.39,279.89 507.66,281.05 503.93,282.27 500.2,283.54 496.48,284.85 492.75,286.19 489.02,287.55 485.29,288.92 481.56,290.3 477.83,291.7 474.1,293.1" fill="#d5d5d5"/>
<g fill="none" stroke="#000" stroke-width="0.95">
<circle cx="501.9" cy="255.5" r="1.75"/>
<circle cx="507.5" cy="260.6" r="1.75"/>
<circle cx="483.1" cy="262.6" r="1.75"/>
<circle cx="511.8" cy="265.85" r="1.75"/>
<circle cx="497.2" cy="269" r="1.75"/>
<circle cx="522.4" cy="264.1" r="1.75"/>
<circle cx="520.4" cy="266.1" r="1.75"/>
<circle cx="521.4" cy="265.1" r="1.75"/>
<circle cx="506.1" cy="274.4" r="1.75"/>
<circle cx="509.3" cy="276" r="1.75"/>
<circle cx="513.6" cy="275.8" r="1.75"/>
<circle cx="523.9" cy="280.75" r="1.75"/>
<circle cx="495.2" cy="282.5" r="1.75"/>
<circle cx="558" cy="249.8" r="1.75"/>
<circle cx="532" cy="251.8" r="1.75"/>
<circle cx="541" cy="251.2" r="1.75"/>
<circle cx="541" cy="254.7" r="1.75"/>
<circle cx="536.1" cy="257.4" r="1.75"/>
<circle cx="563.6" cy="257.6" r="1.75"/>
<circle cx="544.3" cy="264.1" r="1.75"/>
<circle cx="556.6" cy="264.7" r="1.75"/>
<circle cx="531.1" cy="268.2" r="1.75"/>
<circle cx="543.7" cy="267" r="1.75"/>
<circle cx="550.2" cy="273.2" r="1.75"/>
<circle cx="474.1" cy="283.8" r="1.75"/>
<circle cx="518" cy="284.6" r="1.75"/>
<circle cx="513.6" cy="287.6" r="1.75"/>
<circle cx="514.9" cy="290.9" r="1.75"/>
<circle cx="520.4" cy="289.7" r="1.75"/>
<circle cx="527.2" cy="289.9" r="1.75"/>
<circle cx="502.8" cy="291.7" r="1.75"/>
<circle cx="535.2" cy="289.1" r="1.75"/>
<circle cx="537.3" cy="302.2" r="1.75"/>
<circle cx="545.5" cy="300.8" r="1.75"/>
</g>
<line x1="474.1" y1="281.1" x2="563.6" y2="266.8" stroke="#000" stroke-width="2.0"/>
<path d="M472.4 230.7V323.3M470.1 230.7H472.4M470.1 249.1H472.4M470.1 267.5H472.4M470.1 285.9H472.4M470.1 304.4H472.4M470.1 322.8H472.4" fill="none" stroke="#4d4d4d" stroke-width="1.1"/>
<path d="M471.9 322.8H574M472.4 322.8V325M505.13 322.8V325M537.86 322.8V325M570.59 322.8V325" fill="none" stroke="#4d4d4d" stroke-width="1.1"/>
<g font-size="6.6" fill="#000" stroke="#000" stroke-width="0.3">
<text x="468.1" y="232.8" text-anchor="end" font-size="6.2">5.5</text>
<text x="468.1" y="251.2" text-anchor="end" font-size="6.2">5.0</text>
<text x="468.1" y="269.6" text-anchor="end" font-size="6.2">4.5</text>
<text x="468.1" y="288" text-anchor="end" font-size="6.2">4.0</text>
<text x="468.1" y="306.5" text-anchor="end" font-size="6.2">3.5</text>
<text x="468.1" y="324.9" text-anchor="end" font-size="6.2">3.0</text>
<text x="472.4" y="331.5" text-anchor="middle">0.6</text>
<text x="505.13" y="331.5" text-anchor="middle">0.7</text>
<text x="537.86" y="331.5" text-anchor="middle">0.8</text>
<text x="570.59" y="331.5" text-anchor="middle">0.9</text>
</g>
<text x="435.1" y="236.9" font-size="7.5" letter-spacing="0.35" font-weight="bold" stroke="#000" stroke-width="0.15">(l)</text>
<text x="522.6" y="341.4" font-size="8.2" text-anchor="middle" stroke="#000" stroke-width="0.3">NDVI</text>
</g>
<text transform="translate(6.9 54.9) rotate(-90)" font-size="8.2" text-anchor="middle" stroke="#000" stroke-width="0.3">ln (Total</text>
<text transform="translate(19.8 55.7) rotate(-90)" font-size="8.2" text-anchor="middle" stroke="#000" stroke-width="0.3">biomass (g m<tspan dy="-3.1" font-size="5.6">−2</tspan><tspan dy="3.1">))</tspan></text>
<text transform="translate(6.9 164.4) rotate(-90)" font-size="8.2" text-anchor="middle" stroke="#000" stroke-width="0.3">ln (Phytomass</text>
<text transform="translate(19.8 163.5) rotate(-90)" font-size="8.2" text-anchor="middle" stroke="#000" stroke-width="0.3">(g m<tspan dy="-3.1" font-size="5.6">−2</tspan><tspan dy="3.1">))</tspan></text>
<text transform="translate(6.6 276.8) rotate(-90)" font-size="8.2" text-anchor="middle" stroke="#000" stroke-width="0.3">ln (Leaf</text>
<text transform="translate(19.8 276.4) rotate(-90)" font-size="8.2" text-anchor="middle" stroke="#000" stroke-width="0.3">biomass (g m<tspan dy="-3.1" font-size="5.6">−2</tspan><tspan dy="3.1">))</tspan></text>
</svg>
</body></html>
